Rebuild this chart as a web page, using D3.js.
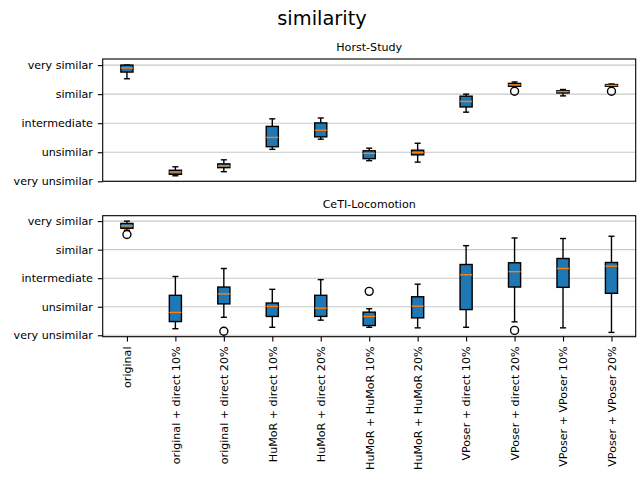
<!DOCTYPE html>
<html>
<head>
<meta charset="utf-8">
<script src="https://cdn.jsdelivr.net/npm/d3@7"></script>
<style>
  body { margin: 0; background: #fff; }
  text { font-family: "DejaVu Sans", sans-serif; fill: #000; }
</style>
</head>
<body>
<script>
// categories along x
var categories = ["original", "original + direct 10%", "original + direct 20%",
  "HuMoR + direct 10%", "HuMoR + direct 20%", "HuMoR + HuMoR 10%", "HuMoR + HuMoR 20%",
  "VPoser + direct 10%", "VPoser + direct 20%", "VPoser + VPoser 10%", "VPoser + VPoser 20%"];
var levelLabels = ["very unsimilar", "unsimilar", "intermediate", "similar", "very similar"];
var levelValues = [1, 2, 3, 4, 5];

// Horst-Study box stats
var horstLow    = [4.53, 1.19, 1.33, 2.10, 2.45, 1.71, 1.66, 3.38, 4.27, 3.94, 4.27];
var horstQ1     = [4.76, 1.24, 1.47, 2.19, 2.53, 1.78, 1.91, 3.56, 4.27, 4.04, 4.27];
var horstMedian = [4.90, 1.32, 1.53, 2.51, 2.76, 1.96, 1.99, 3.75, 4.32, 4.09, 4.30];
var horstQ3     = [5.00, 1.38, 1.60, 2.89, 3.01, 2.05, 2.07, 3.93, 4.37, 4.12, 4.33];
var horstHigh   = [5.00, 1.50, 1.74, 3.15, 3.18, 2.14, 2.31, 4.00, 4.42, 4.16, 4.35];
var horstFliers = [[], [], [], [], [], [], [], [], [4.10], [], [4.10]];

// CeTI-Locomotion box stats
var cetiLow    = [4.68, 1.23, 1.63, 1.28, 1.53, 1.28, 1.26, 1.28, 1.47, 1.26, 1.10];
var cetiQ1     = [4.75, 1.48, 2.10, 1.66, 1.66, 1.34, 1.61, 1.90, 2.69, 2.68, 2.47];
var cetiMedian = [4.83, 1.80, 2.45, 2.01, 1.95, 1.66, 2.02, 3.12, 3.23, 3.34, 3.42];
var cetiQ3     = [4.92, 2.40, 2.69, 2.13, 2.40, 1.81, 2.35, 3.48, 3.54, 3.69, 3.55];
var cetiHigh   = [5.00, 3.06, 3.34, 2.61, 2.95, 1.93, 2.79, 4.14, 4.41, 4.39, 4.47];
var cetiFliers = [[4.53], [], [1.14], [], [], [2.54], [], [], [1.17], [], []];

var width = 644, height = 491;
var svg = d3.select("body").append("svg")
  .attr("width", width)
  .attr("height", height);

svg.append("text")
  .attr("x", 322)
  .attr("y", 25)
  .attr("text-anchor", "middle")
  .style("font-size", "19.4px")
  .text("similarity");

var x = d3.scaleLinear().domain([0.5, 11.5]).range([102.7, 635.7]);
var boxW = x(1.25) - x(1);

function makeRows(low, q1, med, q3, high, fliers) {
  return categories.map(function(c, i) {
    return { name: c, pos: i + 1, low: low[i], q1: q1[i], med: med[i], q3: q3[i], high: high[i], fliers: fliers[i] };
  });
}

function drawPanel(title, rows, top, bottom, yDomain, showX) {
  var y = d3.scaleLinear().domain(yDomain).range([bottom, top]);
  var g = svg.append("g");

  // grid
  g.selectAll(".grid")
    .data(levelValues)
    .enter()
    .append("line")
    .attr("x1", x.range()[0])
    .attr("x2", x.range()[1])
    .attr("y1", function(d) { return y(d); })
    .attr("y2", function(d) { return y(d); })
    .attr("stroke", "#c8c8c8")
    .attr("stroke-width", 1.1);

  var box = g.selectAll(".box")
    .data(rows)
    .enter()
    .append("g");

  // whiskers
  box.append("line")
    .attr("x1", function(d) { return x(d.pos); })
    .attr("x2", function(d) { return x(d.pos); })
    .attr("y1", function(d) { return y(d.q3); })
    .attr("y2", function(d) { return y(d.high); })
    .attr("stroke", "#000").attr("stroke-width", 1.4);
  box.append("line")
    .attr("x1", function(d) { return x(d.pos); })
    .attr("x2", function(d) { return x(d.pos); })
    .attr("y1", function(d) { return y(d.q1); })
    .attr("y2", function(d) { return y(d.low); })
    .attr("stroke", "#000").attr("stroke-width", 1.4);
  // caps
  ["high", "low"].forEach(function(k) {
    box.append("line")
      .attr("x1", function(d) { return x(d.pos) - boxW / 4; })
      .attr("x2", function(d) { return x(d.pos) + boxW / 4; })
      .attr("y1", function(d) { return y(d[k]); })
      .attr("y2", function(d) { return y(d[k]); })
      .attr("stroke", "#000").attr("stroke-width", 1.4);
  });
  // box
  box.append("rect")
    .attr("x", function(d) { return x(d.pos) - boxW / 2; })
    .attr("width", boxW)
    .attr("y", function(d) { return y(d.q3); })
    .attr("height", function(d) { return Math.max(0.5, y(d.q1) - y(d.q3)); })
    .attr("fill", "#1f77b4")
    .attr("stroke", "#000")
    .attr("stroke-width", 1.4);
  // median
  box.append("line")
    .attr("x1", function(d) { return x(d.pos) - boxW / 2; })
    .attr("x2", function(d) { return x(d.pos) + boxW / 2; })
    .attr("y1", function(d) { return y(d.med); })
    .attr("y2", function(d) { return y(d.med); })
    .attr("stroke", "#ff7f0e").attr("stroke-width", 1.4);
  // fliers
  box.selectAll(".flier")
    .data(function(d) { return d.fliers.map(function(v) { return { pos: d.pos, v: v }; }); })
    .enter()
    .append("circle")
    .attr("cx", function(d) { return x(d.pos); })
    .attr("cy", function(d) { return y(d.v); })
    .attr("r", 4)
    .attr("fill", "none")
    .attr("stroke", "#000")
    .attr("stroke-width", 1.4);

  // frame
  g.append("rect")
    .attr("x", x.range()[0])
    .attr("y", top)
    .attr("width", x.range()[1] - x.range()[0])
    .attr("height", bottom - top)
    .attr("fill", "none")
    .attr("stroke", "#000")
    .attr("stroke-width", 1.1);

  // y axis
  var yAxis = d3.axisLeft(y)
    .tickValues(levelValues)
    .tickFormat(function(d, i) { return levelLabels[i]; })
    .tickSize(4.9)
    .tickPadding(4.9);
  var ya = g.append("g")
    .attr("transform", "translate(" + x.range()[0] + ",0)")
    .call(yAxis);
  ya.select(".domain").remove();
  ya.selectAll("line").attr("stroke-width", 1.1);
  ya.selectAll("text").style("font-size", "11.1px").style("font-family", "DejaVu Sans");

  if (showX) {
    var xAxis = d3.axisBottom(x)
      .tickValues(d3.range(1, 12))
      .tickFormat(function(d) { return categories[d - 1]; })
      .tickSize(4.9)
      .tickPadding(4.9);
    var xa = g.append("g")
      .attr("transform", "translate(0," + bottom + ")")
      .call(xAxis);
    xa.select(".domain").remove();
    xa.selectAll("line").attr("stroke-width", 1.1);
    xa.selectAll("text")
      .style("font-size", "11.1px")
      .style("font-family", "DejaVu Sans")
      .attr("text-anchor", "end")
      .attr("dy", "0.35em")
      .attr("y", 0)
      .attr("transform", "translate(0,9.8) rotate(-90)");
  }

  g.append("text")
    .attr("x", (x.range()[0] + x.range()[1]) / 2)
    .attr("y", top - 8)
    .attr("text-anchor", "middle")
    .style("font-size", "11.1px")
    .text(title);
}

drawPanel("Horst-Study", makeRows(horstLow, horstQ1, horstMedian, horstQ3, horstHigh, horstFliers),
  59, 181.3, [1.0, 5.21], false);
drawPanel("CeTI-Locomotion", makeRows(cetiLow, cetiQ1, cetiMedian, cetiQ3, cetiHigh, cetiFliers),
  215.7, 336.7, [0.95, 5.19], true);
</script>
</body>
</html>
